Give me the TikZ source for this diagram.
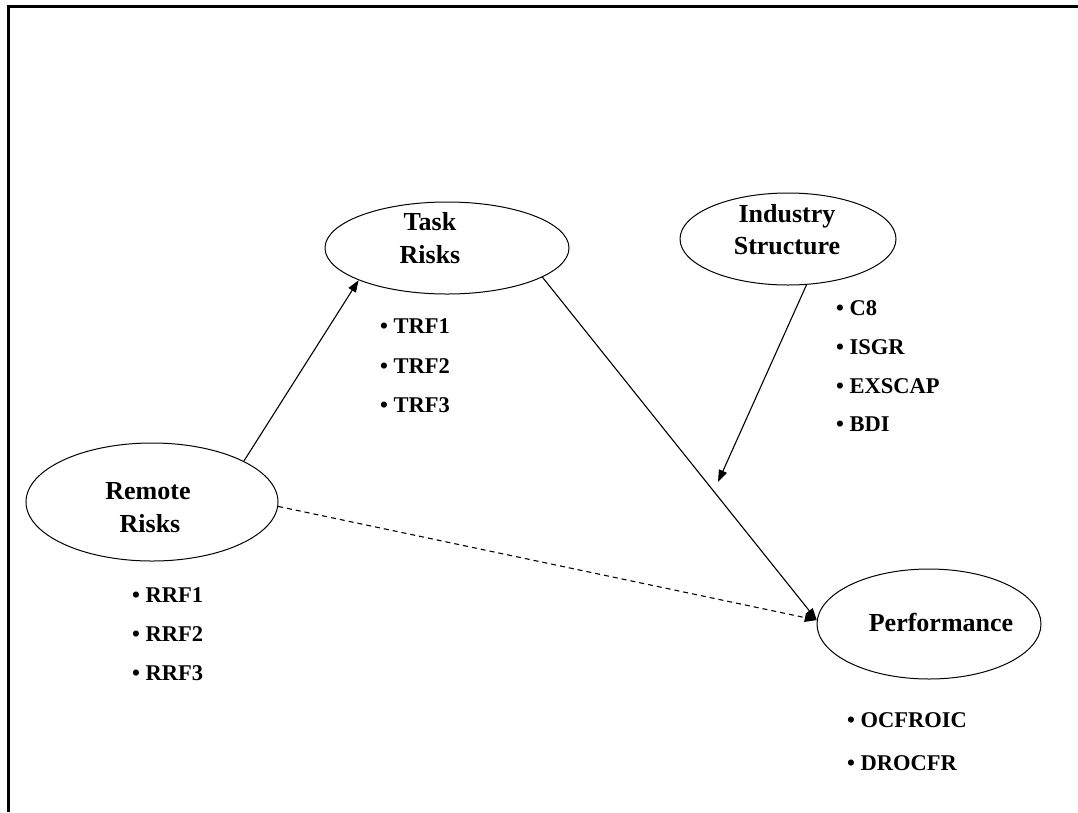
\documentclass[tikz,border=0pt]{standalone}
\usepackage{fontspec}
\setmainfont{Liberation Serif}
\usetikzlibrary{arrows.meta,shapes.geometric}
\begin{document}
\begin{tikzpicture}[x=1pt,y=-1pt,
  construct/.style={draw,ellipse,line width=1pt,inner sep=0pt},
  title/.style={font=\fontsize{26}{30}\selectfont\bfseries,inner sep=0pt,anchor=base},
  item/.style={font=\fontsize{22.5}{27}\selectfont\bfseries,inner sep=0pt,anchor=base west},
  link/.style={line width=1.1pt,-{Triangle[length=12pt,width=8.5pt]}},
  frame/.style={line width=3pt}]
\useasboundingbox (0,0) rectangle (1078,812);
\draw[frame] (8,812) -- (8,6) -- (1078,6);

% constructs
\node[construct,minimum width=252pt,minimum height=118pt] (rem) at (152,502) {};
\node[construct,minimum width=244pt,minimum height=92pt] (task) at (447,248) {};
\node[construct,minimum width=216pt,minimum height=92pt] (ind) at (788,239) {};
\node[construct,minimum width=224pt,minimum height=110pt] (perf) at (929,624) {};

% construct titles
\node[title] (remA) at (148,499) {Remote};
\node[title] (remB) at (150,532) {Risks};
\node[title] (taskA) at (430,230) {Task};
\node[title] (taskB) at (430,263) {Risks};
\node[title] (indA) at (787,222) {Industry};
\node[title] (indB) at (787,254) {Structure};
\node[title] (perfA) at (941,631) {Performance};

% indicators
\node[item] (trf1) at (380,333) {• TRF1};
\node[item] (trf2) at (380,373) {• TRF2};
\node[item] (trf3) at (380,412) {• TRF3};
\node[item] (c8) at (836,315) {• C8};
\node[item] (isgr) at (836,354) {• ISGR};
\node[item] (exscap) at (836,393) {• EXSCAP};
\node[item] (bdi) at (836,431) {• BDI};
\node[item] (rrf1) at (132,602) {• RRF1};
\node[item] (rrf2) at (132,641) {• RRF2};
\node[item] (rrf3) at (132,680) {• RRF3};
\node[item] (ocf) at (847,727) {• OCFROIC};
\node[item] (dro) at (847,770) {• DROCFR};

% connectors
\coordinate (mod) at (718,482);
\draw[link] (rem.24) -- (task.200);
\draw[link] (task.343) -- (perf.178);
\draw[link,dash pattern=on 5pt off 4pt] (rem.358) -- (perf.178);
\draw[link] (ind.292) -- (mod);
\end{tikzpicture}
\end{document}
